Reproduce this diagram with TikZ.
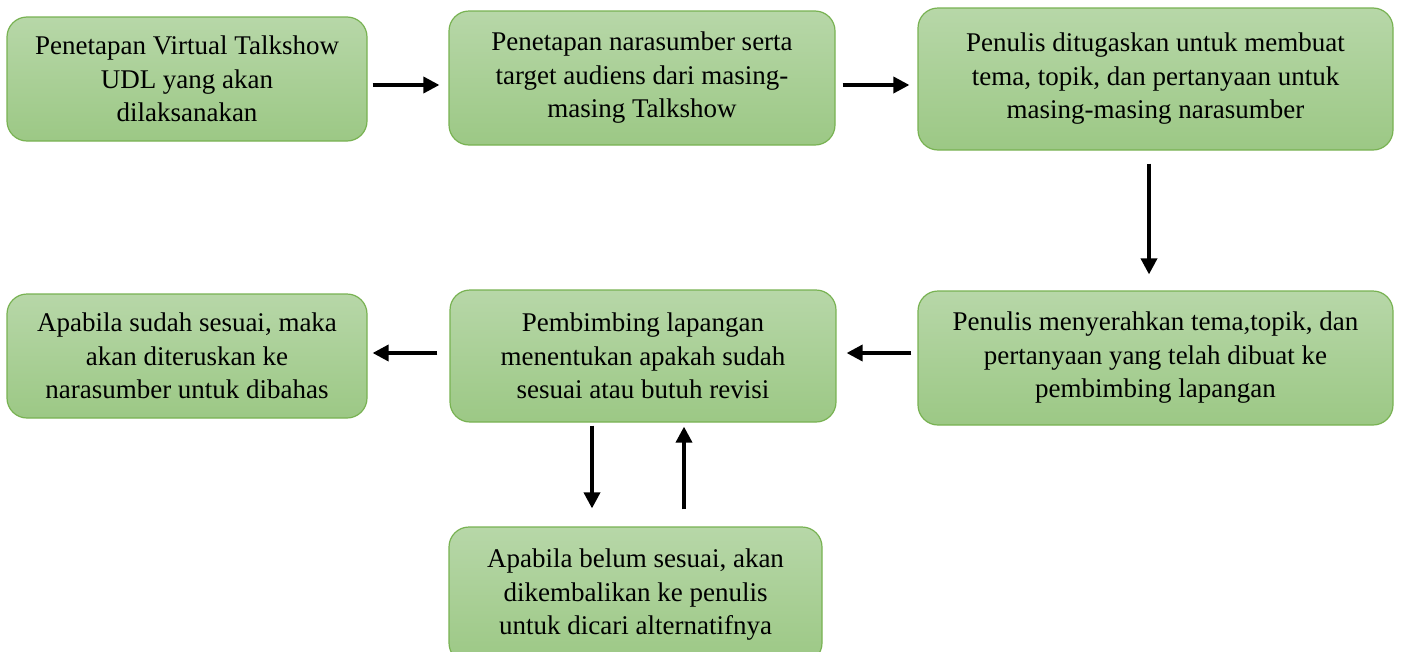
\documentclass[tikz,border=0pt]{standalone}
\usepackage{fontspec}
\setmainfont{Liberation Serif}
\usetikzlibrary{arrows.meta}
\definecolor{gtop}{RGB}{183,215,168}
\definecolor{gbot}{RGB}{156,200,133}
\definecolor{gline}{RGB}{120,178,82}
\tikzset{
  box/.style={draw=gline, line width=1.2pt, rounded corners=20pt, top color=gtop, bottom color=gbot,
    align=center, inner sep=0pt, font=\fontsize{27}{33.5}\selectfont},
  arr/.style={line width=3.6pt, -{Triangle[length=16pt,width=16pt]}}
}
\begin{document}
\begin{tikzpicture}[x=1pt,y=-1pt]
\useasboundingbox (0,0) rectangle (1403,651);
\clip (0,0) rectangle (1403,651);
\node[box, minimum width=360pt, minimum height=124pt] (b1) at (187,79)
  {\raisebox{-2pt}{\parbox{360pt}{\centering Penetapan Virtual Talkshow\\UDL yang akan\\dilaksanakan}}};
\node[box, minimum width=386pt, minimum height=134pt] (b2) at (642,78)
  {Penetapan narasumber serta\\target audiens dari masing-\\masing Talkshow};
\node[box, minimum width=475pt, minimum height=142pt] (b3) at (1155.5,79)
  {Penulis ditugaskan untuk membuat\\tema, topik, dan pertanyaan untuk\\masing-masing narasumber};
\node[box, minimum width=475pt, minimum height=134pt] (b4) at (1155.5,358)
  {Penulis menyerahkan tema,topik, dan\\pertanyaan yang telah dibuat ke\\pembimbing lapangan};
\node[box, minimum width=386pt, minimum height=132pt] (b5) at (643,356)
  {Pembimbing lapangan\\menentukan apakah sudah\\sesuai atau butuh revisi};
\node[box, minimum width=360pt, minimum height=124pt] (b6) at (187,356)
  {Apabila sudah sesuai, maka\\akan diteruskan ke\\narasumber untuk dibahas};
\node[box, minimum width=373pt, minimum height=136pt] (b7) at (635.5,595)
  {Apabila belum sesuai, akan\\dikembalikan ke penulis\\untuk dicari alternatifnya};
\draw[arr] ([xshift=5pt,yshift=-6pt]b1.east) -- ([xshift=-9pt,yshift=-7pt]b2.west);
\draw[arr] ([xshift=7pt,yshift=-7pt]b2.east) -- ([xshift=-8pt,yshift=-6pt]b3.west);
\draw[arr] ([xshift=-6.5pt,yshift=-13pt]b3.south) -- ([xshift=-6.5pt,yshift=16pt]b4.north);
\draw[arr] ([xshift=-6pt,yshift=5pt]b4.west) -- ([xshift=10pt,yshift=3pt]b5.east);
\draw[arr] ([xshift=-12pt,yshift=3pt]b5.west) -- ([xshift=5pt,yshift=3pt]b6.east);
\draw[arr] ([xshift=-51pt,yshift=-3pt]b5.south) -- ([xshift=-43.5pt,yshift=18pt]b7.north);
\draw[arr] ([xshift=48.5pt,yshift=17pt]b7.north) -- ([xshift=41pt,yshift=-4pt]b5.south);
\end{tikzpicture}
\end{document}
